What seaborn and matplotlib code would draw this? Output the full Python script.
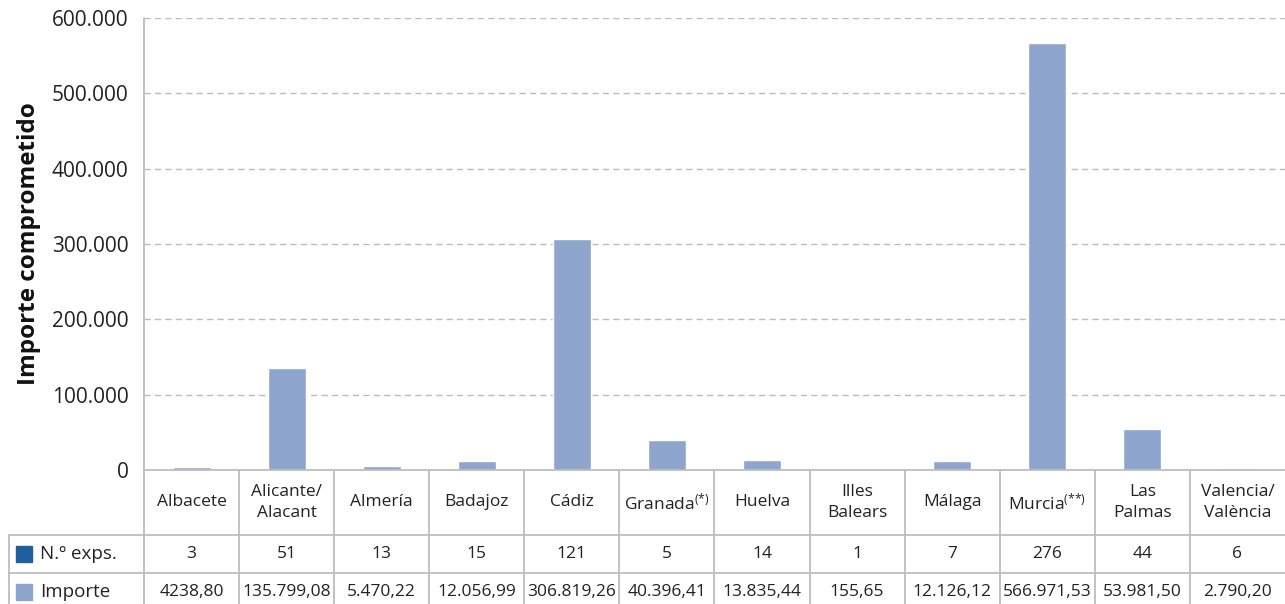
import matplotlib
matplotlib.use("Agg")
import matplotlib.pyplot as plt
import matplotlib.ticker as mticker
import pandas as pd
import seaborn as sns

# data
provincias = ["Albacete", "Alicante/\nAlacant", "Almería", "Badajoz", "Cádiz",
              "Granada$^{\\mathregular{({*})}}$", "Huelva", "Illes\nBalears", "Málaga",
              "Murcia$^{\\mathregular{({*}{*})}}$", "Las\nPalmas", "Valencia/\nValència"]
n_exps = [3, 51, 13, 15, 121, 5, 14, 1, 7, 276, 44, 6]
importe = [4238.80, 135799.08, 5470.22, 12056.99, 306819.26, 40396.41,
           13835.44, 155.65, 12126.12, 566971.53, 53981.50, 2790.20]
importe_txt = ["4238,80", "135.799,08", "5.470,22", "12.056,99", "306.819,26", "40.396,41",
               "13.835,44", "155,65", "12.126,12", "566.971,53", "53.981,50", "2.790,20"]
y_ticks = [0, 100000, 200000, 300000, 400000, 500000, 600000]
series_names = ["N.º exps.", "Importe"]

col_dark = "#1F5F9E"
col_light = "#8EA6CD"
col_line = "#BDBDBD"

sns.set_style("white")
plt.rcParams["font.family"] = ["Open Sans", "DejaVu Sans"]
plt.rcParams["mathtext.default"] = "regular"

df = pd.DataFrame({"key": [str(i) for i in range(len(provincias))], "importe": importe})

fig = plt.figure(figsize=(12.85, 6.04), dpi=100)
ax = fig.add_axes([144 / 1285, 134 / 604, 1141 / 1285, 452 / 604])

sns.barplot(data=df, x="key", y="importe", color=col_light, saturation=1,
            width=0.4, ax=ax)

ax.set_xlim(-0.5, len(provincias) - 0.5)
ax.set_ylim(0, 600000)
ax.set_yticks(y_ticks)
ax.yaxis.set_major_formatter(mticker.FuncFormatter(lambda v, p: f"{int(v):,}".replace(",", ".")))
ax.tick_params(axis="y", length=5, width=1, color=col_line, pad=6, labelsize=15, labelcolor="#222222")
ax.set_xticks([])
ax.set_xlabel("")
ax.set_ylabel("Importe comprometido", fontsize=17.5, fontweight="bold", labelpad=8, color="#111111")
ax.yaxis.grid(True, linestyle=(0, (4.5, 3)), color="#BBBBBB", linewidth=1)
ax.set_axisbelow(True)

for s in ["top", "right"]:
    ax.spines[s].set_visible(False)
ax.spines["bottom"].set_color(col_line)
ax.spines["bottom"].set_linewidth(1.3)
ax.spines["left"].set_visible(False)

# data table below the bars
tr = ax.get_xaxis_transform()
h = 452.0
r0, r1, r2, r3 = 0, -65 / h, -103 / h, -141 / h
n = len(provincias)
x_left = -0.5 - 135 / 95.08
lk = dict(color=col_line, lw=1.3, transform=tr, clip_on=False)

ax.plot([-0.5, -0.5], [1, r3], **lk)
for i in range(1, n):
    ax.plot([i - 0.5, i - 0.5], [r0, r3], **lk)
for y in (r1, r2, r3):
    ax.plot([x_left, n - 0.5], [y, y], **lk)
ax.plot([x_left, x_left], [r1, r3], **lk)

tk = dict(transform=tr, ha="center", va="center", fontsize=12.5,
          color="#222222", clip_on=False, linespacing=1.35)
for i in range(n):
    ax.text(i, (r0 + r1) / 2, provincias[i], **tk)
    ax.text(i, (r1 + r2) / 2, str(n_exps[i]), **tk)
    ax.text(i, (r2 + r3) / 2, importe_txt[i], **tk)

for name, col, ya, yb in [(series_names[0], col_dark, r1, r2), (series_names[1], col_light, r2, r3)]:
    yc = (ya + yb) / 2
    ax.plot([-0.5 - 120 / 95.08], [yc], marker="s", ms=11.5, color=col, transform=tr, clip_on=False)
    ax.text(-0.5 - 104 / 95.08, yc, name, transform=tr, ha="left", va="center",
            fontsize=13.5, color="#222222")

fig.savefig("out.png", dpi=100)
